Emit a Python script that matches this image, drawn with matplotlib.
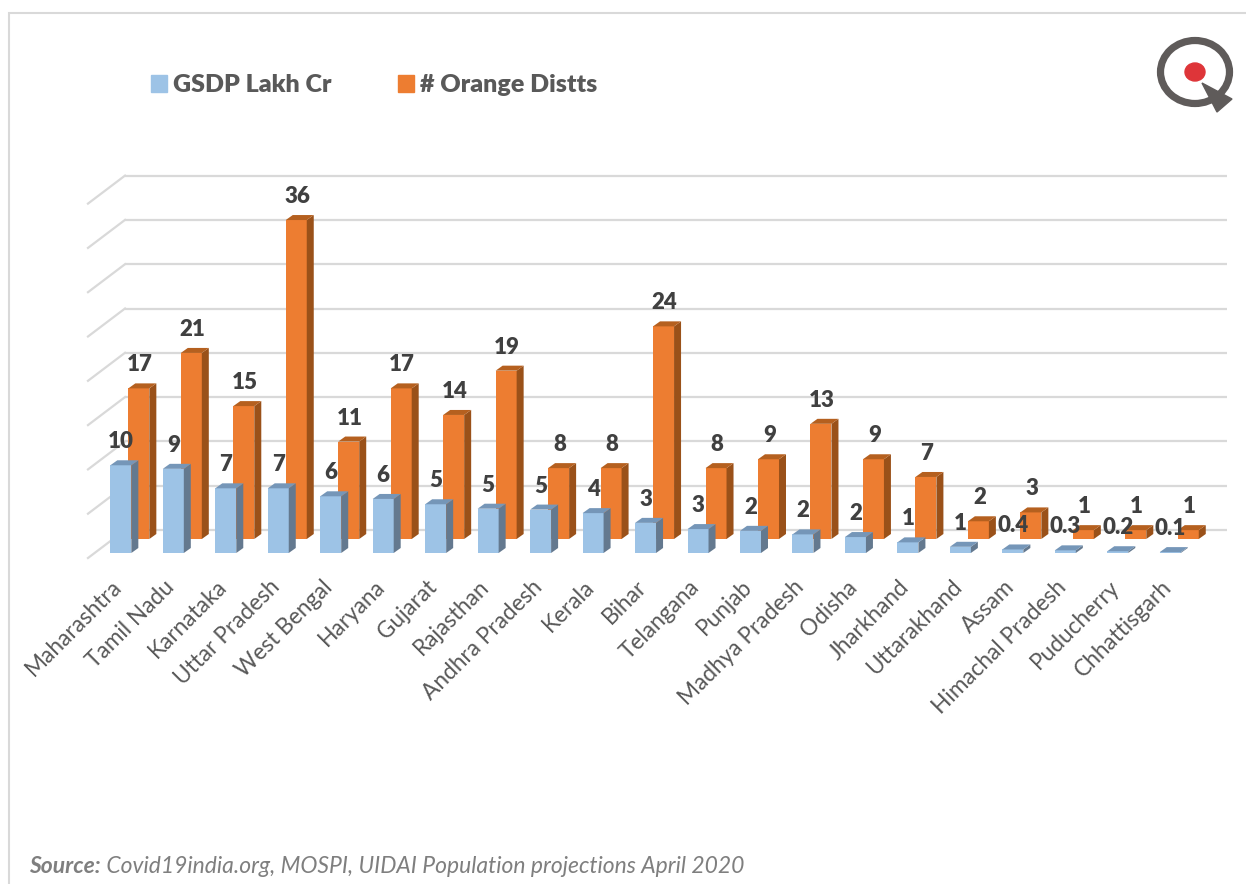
import matplotlib
matplotlib.use('Agg')
import matplotlib.pyplot as plt
from matplotlib.patches import Polygon, Ellipse, Patch, Rectangle
from matplotlib.transforms import Affine2D

plt.rcParams['font.family'] = ['Lato', 'DejaVu Sans']

W, H = 1246, 884

states = ['Maharashtra', 'Tamil Nadu', 'Karnataka', 'Uttar Pradesh', 'West Bengal',
          'Haryana', 'Gujarat', 'Rajasthan', 'Andhra Pradesh', 'Kerala', 'Bihar',
          'Telangana', 'Punjab', 'Madhya Pradesh', 'Odisha', 'Jharkhand',
          'Uttarakhand', 'Assam', 'Himachal Pradesh', 'Puducherry', 'Chhattisgarh']
gsdp = [9.9, 9.5, 7.3, 7.3, 6.4, 6.1, 5.5, 5.0, 4.9, 4.5, 3.4,
        2.7, 2.5, 2.1, 1.8, 1.2, 0.7, 0.4, 0.3, 0.2, 0.1]
gsdp_labels = ['10', '9', '7', '7', '6', '6', '5', '5', '5', '4', '3',
               '3', '2', '2', '2', '1', '1', '0.4', '0.3', '0.2', '0.1']
orange = [17, 21, 15, 36, 11, 17, 14, 19, 8, 8, 24, 8, 9, 13, 9, 7, 2, 3, 1, 1, 1]
grid_values = [0, 5, 10, 15, 20, 25, 30, 35, 40]

# pixels per data unit, used to turn the fake 3D depth into data units
PX_X = 52.47
PX_Y = 8.86
BAR_W = 21 / PX_X
DEPTH_X = 7 / PX_X
DEPTH_Y = 5 / PX_Y


def draw_bars(ax, values, shift_x, shift_y, front, side, top, z):
    xs = [i + shift_x for i in range(len(values))]
    ax.bar(xs, values, BAR_W, bottom=shift_y, color=front, zorder=z, clip_on=False)
    for x, v in zip(xs, values):
        l, r = x - BAR_W / 2, x + BAR_W / 2
        y0, y1 = shift_y, shift_y + v
        ax.add_patch(Polygon([(r, y0), (r + DEPTH_X, y0 + DEPTH_Y),
                              (r + DEPTH_X, y1 + DEPTH_Y), (r, y1)],
                             facecolor=side, edgecolor='none', zorder=z, clip_on=False))
        ax.add_patch(Polygon([(l, y1), (r, y1), (r + DEPTH_X, y1 + DEPTH_Y),
                              (l + DEPTH_X, y1 + DEPTH_Y)],
                             facecolor=top, edgecolor='none', zorder=z, clip_on=False))


fig = plt.figure(figsize=(W / 100, H / 100), dpi=100)
ax = fig.add_axes([94.6 / W, 1 - 553 / H, 1101.9 / W, 354.4 / H])
ax.set_xlim(-0.5, 20.5)
ax.set_ylim(0, 40)
ax.patch.set_alpha(0)
for s in ax.spines.values():
    s.set_visible(False)

# walls of the chart
back_x = 30.4 / PX_X
back_y = 23 / PX_Y
front_x = -6.6 / PX_X
front_y = -5 / PX_Y
for g in grid_values:
    ax.plot([-0.5 + back_x, 20.5 + back_x], [g + back_y, g + back_y],
            color='#D9D9D9', lw=1.6, zorder=1, clip_on=False, solid_capstyle='butt')
    ax.plot([-0.5 + front_x, -0.5 + back_x], [g + front_y, g + back_y],
            color='#D9D9D9', lw=1.6, zorder=1, clip_on=False)

orange_x = 18 / PX_X
orange_y = 14 / PX_Y
draw_bars(ax, orange, orange_x, orange_y, '#ED7D31', '#9A5119', '#B5601F', 2)
draw_bars(ax, gsdp, 0, 0, '#9DC3E6', '#64798F', '#7596B8', 3)

for i, (v, lab) in enumerate(zip(gsdp, gsdp_labels)):
    ax.annotate(lab, (i, v), xytext=(0, 23.5), textcoords='offset pixels', ha='center',
                va='center', fontsize=16, fontweight='heavy', color='#404040', zorder=5)
for i, v in enumerate(orange):
    ax.annotate(str(v), (i + orange_x, v + orange_y), xytext=(1, 23.5),
                textcoords='offset pixels', ha='center', va='center',
                fontsize=16, fontweight='heavy', color='#404040', zorder=5)

ax.set_yticks(grid_values)
ax.set_xticks(range(len(states)))
ax.set_xticklabels(states, rotation=45, ha='right', va='center', rotation_mode='anchor',
                   fontsize=16.3, color='#595959')
ax.tick_params(axis='both', length=0, labelleft=False)
ax.tick_params(axis='x', pad=22)
for lab in ax.get_xticklabels():
    lab.set_transform(lab.get_transform() + Affine2D().translate(-2, 0))

handles = [Patch(color='#9DC3E6', label='GSDP Lakh Cr'),
           Patch(color='#ED7D31', label='# Orange Distts')]
fig.legend(handles=handles, ncol=2, frameon=False, loc='center left',
           bbox_to_anchor=(151 / W, 1 - 85.5 / H), borderaxespad=0, borderpad=0,
           handlelength=0.64, handleheight=0.64, handletextpad=0.24, columnspacing=2.64,
           labelcolor='#595959', prop={'size': 18, 'weight': 'heavy'})

# panel border, only top and left show
fig.add_artist(Rectangle((9 / W, -0.1), 1.2, 1.1 - 13 / H, transform=fig.transFigure,
                         fill=False, edgecolor='#D9D9D9', lw=1.5))

# logo
logo = fig.add_axes([1150 / W, 1 - 120 / H, 90 / W, 90 / H])
logo.set_xlim(1150, 1240)
logo.set_ylim(120, 30)
logo.axis('off')
logo.add_patch(Ellipse((1195, 72), 69, 63, fill=False, edgecolor='#5F5B5A', lw=5.2))
logo.add_patch(Ellipse((1195, 72), 20, 18, color='#DE3539'))
logo.add_patch(Polygon([(1202, 83), (1232, 99), (1217, 112)], color='#5F5B5A'))

src = fig.text(29 / W, 1 - 873 / H, 'Source:', fontsize=16.5, fontweight='bold',
               fontstyle='italic', color='#7F7F7F', va='baseline')
ax.annotate(' Covid19india.org, MOSPI, UIDAI Population projections April 2020',
            xy=(1, 0), xycoords=src, va='bottom', ha='left', fontsize=16.5,
            fontstyle='italic', color='#7F7F7F', annotation_clip=False)

fig.savefig('out.png', dpi=100)
